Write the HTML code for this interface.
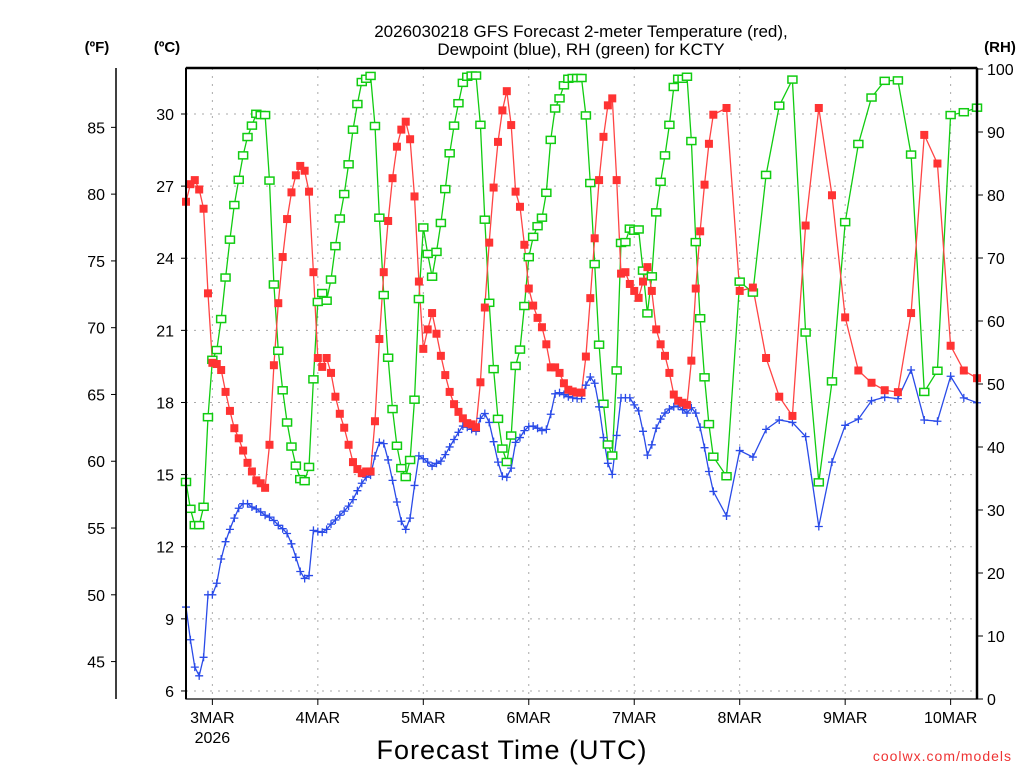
<!DOCTYPE html>
<html><head><meta charset="utf-8"><style>
body{margin:0;background:#fff;}
svg text{font-family:"Liberation Sans",sans-serif;}
</style></head><body>
<svg id="chart" width="1024" height="768" xmlns="http://www.w3.org/2000/svg">
<g id="grid"></g>
<g id="series"></g>
<g id="axes"></g>
<text x="581" y="37" text-anchor="middle" font-size="17">2026030218 GFS Forecast 2-meter Temperature (red),</text>
<text x="581" y="55" text-anchor="middle" font-size="17">Dewpoint (blue), RH (green) for KCTY</text>
<text x="97" y="52" text-anchor="middle" font-size="15" font-weight="bold">(ºF)</text>
<text x="167" y="52" text-anchor="middle" font-size="15" font-weight="bold">(ºC)</text>
<text x="1000" y="52" text-anchor="middle" font-size="15" font-weight="bold">(RH)</text>
<text x="512" y="759" text-anchor="middle" font-size="27" letter-spacing="1">Forecast Time (UTC)</text>
<text x="1012" y="761" text-anchor="end" font-size="14" fill="#e33" letter-spacing="1">coolwx.com/models</text>
</svg>
<script>
const hours=[];for(let h=0;h<=120;h++)hours.push(h);for(let h=123;h<=180;h+=3)hours.push(h);
const tempC=[26.35,27.08,27.25,26.86,26.06,22.54,19.65,19.60,19.35,18.44,17.65,16.93,16.51,16.00,15.49,15.13,14.76,14.64,14.45,16.24,19.55,22.13,24.05,25.63,26.74,27.45,27.84,27.64,26.77,23.42,19.85,19.48,19.85,19.23,18.24,17.53,16.95,16.24,15.52,15.23,15.06,15.13,15.13,17.22,20.64,23.42,25.55,27.33,28.64,29.35,29.68,28.95,26.57,23.03,20.23,21.04,21.72,20.86,19.94,19.14,18.44,17.93,17.61,17.34,17.14,17.09,16.97,18.84,21.95,24.65,26.94,28.84,30.15,30.95,29.54,26.77,26.14,24.56,22.74,22.03,21.52,21.13,20.42,19.46,19.46,19.23,18.80,18.53,18.46,18.41,18.41,19.91,22.34,24.83,27.25,29.05,30.36,30.65,27.25,23.36,23.42,22.93,22.64,22.35,23.03,23.63,22.64,21.04,20.42,19.94,19.23,18.33,18.07,17.99,17.90,19.74,22.74,25.12,27.06,28.76,29.97,30.25,22.64,22.78,19.85,18.24,17.44,25.36,30.25,26.62,21.54,19.33,18.82,18.51,18.43,21.72,29.13,27.94,20.36,19.33,19.01];
const dewC=[9.49,8.13,6.99,6.63,7.40,10.00,10.00,10.48,11.49,12.21,12.72,13.19,13.60,13.79,13.79,13.65,13.57,13.45,13.31,13.23,13.09,12.89,12.75,12.55,12.12,11.56,10.97,10.68,10.80,12.68,12.63,12.60,12.72,12.94,13.11,13.31,13.48,13.69,13.96,14.33,14.64,14.89,14.98,15.78,16.34,16.29,15.61,14.76,13.86,13.06,12.72,13.19,14.55,15.78,15.66,15.52,15.35,15.47,15.56,15.83,16.15,16.46,16.76,17.02,16.97,16.88,16.80,17.34,17.54,17.17,16.37,15.52,14.93,14.89,15.27,16.34,16.54,16.83,17.00,17.02,16.93,16.83,16.88,17.51,18.36,18.41,18.33,18.24,18.19,18.16,18.16,18.72,19.06,18.80,17.82,16.54,15.47,15.01,16.63,18.19,18.19,18.19,17.90,17.65,16.80,15.81,16.24,16.93,17.31,17.56,17.73,17.82,17.85,17.70,17.56,17.78,17.56,16.97,16.12,15.13,14.30,13.28,16.00,15.73,16.88,17.27,17.17,16.58,12.84,15.52,17.05,17.31,18.07,18.22,18.16,19.35,17.27,17.22,19.09,18.19,17.99];
const rh=[34.45,30.19,27.60,27.60,30.51,44.73,53.84,55.39,60.31,66.90,72.91,78.41,82.41,86.29,89.20,91.01,92.89,92.69,92.69,82.29,65.80,55.27,49.00,43.89,40.07,37.04,34.90,34.58,36.84,50.74,63.02,64.44,63.22,66.58,71.88,76.27,80.15,84.87,90.37,94.44,97.93,98.45,98.90,90.95,76.40,64.12,54.17,46.02,40.20,36.65,35.23,37.94,47.51,63.48,74.85,70.65,67.03,70.97,75.56,80.93,86.62,91.01,94.57,97.80,98.77,98.96,98.96,91.14,76.08,62.89,52.36,44.47,39.75,37.62,41.82,52.87,55.46,62.38,70.13,73.36,75.05,76.40,80.35,88.75,93.73,95.34,97.41,98.45,98.57,98.57,98.57,92.63,81.90,69.03,56.24,46.86,40.40,38.65,52.16,72.39,72.52,74.66,74.33,74.53,68.00,61.21,67.09,77.24,82.09,86.29,91.14,97.15,98.45,98.45,98.77,88.56,72.52,60.44,51.06,43.63,38.46,35.36,66.25,64.51,83.19,94.18,98.32,58.17,34.39,50.42,75.69,88.10,95.47,98.12,98.19,86.42,48.74,52.10,92.69,93.14,93.86];
const cTicks=[6,9,12,15,18,21,24,27,30];
const fTicks=[45,50,55,60,65,70,75,80,85];
const rhTicks=[0,10,20,30,40,50,60,70,80,90,100];
const dayLabels=["3MAR","4MAR","5MAR","6MAR","7MAR","8MAR","9MAR","10MAR"];
const dayHours=[6,30,54,78,102,126,150,174];

const L=186,R=977,T=68,B=699;
const NS="http://www.w3.org/2000/svg";
const xS=h=>L+ (h/180)*(R-L);
const yC=c=>114+(30-c)*24.04;
const yF=f=>yC((f-32)/1.8);
const yR=r=>B-r*(B-T-1)/100;
function mk(tag,attrs,parent,txt){const e=document.createElementNS(NS,tag);for(const k in attrs)e.setAttribute(k,attrs[k]);if(txt!==undefined)e.textContent=txt;parent.appendChild(e);return e;}
const grid=document.getElementById('grid'),ser=document.getElementById('series'),ax=document.getElementById('axes');
// grid
dayHours.forEach((h,i)=>{const l=mk('line',{x1:xS(h),x2:xS(h),y1:T,y2:B,stroke:'#aaa','stroke-dasharray':'2,6'},grid);

});
cTicks.forEach(c=>{const l=mk('line',{x1:L,x2:R,y1:yC(c),y2:yC(c),stroke:'#aaa','stroke-dasharray':'2,6'},grid);

});
// series
function line(vals,yf,color,name){const p=hours.map((h,i)=>xS(h).toFixed(1)+','+yf(vals[i]).toFixed(1)).join(' ');
const e=mk('polyline',{points:p,fill:'none',stroke:color,'stroke-width':1.3},ser);

}
line(rh,yR,'#1c1','rh-line');
line(dewC,yC,'#2a4be8','dewpoint-line');
line(tempC,yC,'#f44','temperature-line');
hours.forEach((h,i)=>{const x=xS(h),y=yR(rh[i]);const m=mk('rect',{x:x-4.5,y:y-3.5,width:9,height:7,fill:'#fff',stroke:'#1c1','stroke-width':1.5},ser);

});
hours.forEach((h,i)=>{const x=xS(h),y=yC(dewC[i]);const m=mk('path',{d:`M${x-4},${y}H${x+4}M${x},${y-4}V${y+4}`,stroke:'#2a4be8','stroke-width':1.3},ser);

});
hours.forEach((h,i)=>{const x=xS(h),y=yC(tempC[i]);const m=mk('rect',{x:x-4,y:y-4,width:8,height:8,fill:'#f33'},ser);

});
// frame
const fr=mk('rect',{x:L,y:T,width:R-L,height:B-T,fill:'none',stroke:'#000','stroke-width':1.2},ax);


mk('line',{x1:L,x2:R,y1:T,y2:T,stroke:'#000','stroke-width':2.5},ax);
mk('line',{x1:R,x2:R,y1:T,y2:B,stroke:'#000','stroke-width':2.5},ax);
mk('line',{x1:L,x2:L,y1:T,y2:B,stroke:'#000','stroke-width':2},ax);
const fAx=mk('line',{x1:116,x2:116,y1:T,y2:B,stroke:'#000','stroke-width':1.5},ax);


cTicks.forEach(c=>{mk('line',{x1:L-5,x2:L,y1:yC(c),y2:yC(c),stroke:'#000'},ax);
const t=mk('text',{x:L-12,y:yC(c)+6,'text-anchor':'end','font-size':16},ax,String(c));

});
fTicks.forEach(f=>{mk('line',{x1:111,x2:116,y1:yF(f),y2:yF(f),stroke:'#000'},ax);
const t=mk('text',{x:105,y:yF(f)+6,'text-anchor':'end','font-size':16},ax,String(f));

});
rhTicks.forEach(r=>{mk('line',{x1:R,x2:R+6,y1:yR(r),y2:yR(r),stroke:'#000'},ax);
const t=mk('text',{x:R+10,y:yR(r)+6,'font-size':16},ax,String(r));

});
dayHours.forEach((h,i)=>{mk('line',{x1:xS(h),x2:xS(h),y1:B,y2:B+6,stroke:'#000'},ax);
const t=mk('text',{x:xS(h),y:723,'text-anchor':'middle','font-size':16},ax,dayLabels[i]);

});
const yr=mk('text',{x:xS(6),y:743,'text-anchor':'middle','font-size':16},ax,'2026');


</script>
</body></html>
